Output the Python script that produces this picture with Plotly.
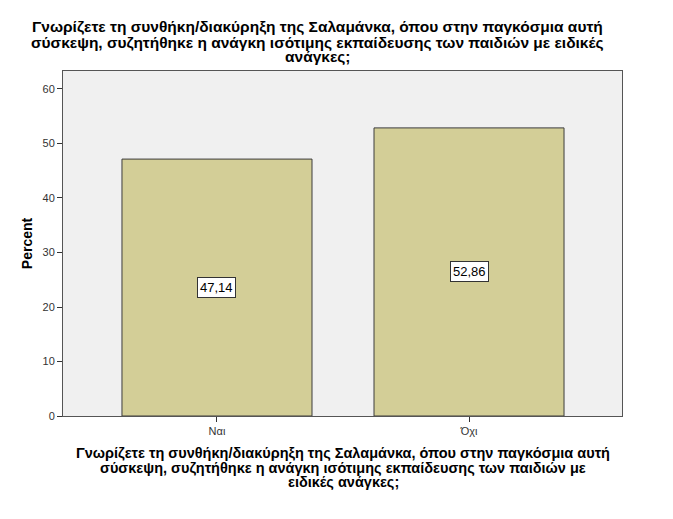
import plotly.graph_objects as go

categories = ["Ναι", "Όχι"]
percent = [47.14, 52.86]
value_labels = ["47,14", "52,86"]

title_lines = [
    "Γνωρίζετε τη συνθήκη/διακύρηξη της Σαλαμάνκα, όπου στην παγκόσμια αυτή",
    "σύσκεψη, συζητήθηκε η ανάγκη ισότιμης εκπαίδευσης των παιδιών με ειδικές",
    "ανάγκες;",
]
xtitle_lines = [
    "Γνωρίζετε τη συνθήκη/διακύρηξη της Σαλαμάνκα, όπου στην παγκόσμια αυτή",
    "σύσκεψη, συζητήθηκε η ανάγκη ισότιμης εκπαίδευσης των παιδιών με",
    "ειδικές ανάγκες;",
]

font_family = "Liberation Sans, Arial, sans-serif"

fig = go.Figure()
fig.add_trace(go.Bar(
    x=categories, y=percent, width=0.754,
    marker=dict(color="#d3ce97", line=dict(color="#3c3c3c", width=1)),
    hoverinfo="x+y",
))

# value labels in the middle of each bar
for cat, val, lab in zip(categories, percent, value_labels):
    fig.add_annotation(
        x=cat, y=val / 2, text=lab, showarrow=False,
        font=dict(family=font_family, size=13, color="black"),
        bgcolor="white", bordercolor="#333333", borderwidth=1, borderpad=2,
    )

# titles, one annotation per line to keep the tight SPSS line spacing
for line, ypos in zip(title_lines, [1.130, 1.084, 1.041]):
    fig.add_annotation(
        text="<b>" + line + "</b>", xref="paper", yref="paper",
        x=0.456, y=ypos, xanchor="center", yanchor="middle", showarrow=False,
        font=dict(family=font_family, size=15.5, color="black"),
    )
for line, ypos in zip(xtitle_lines, [-0.107, -0.151, -0.191]):
    fig.add_annotation(
        text="<b>" + line + "</b>", xref="paper", yref="paper",
        x=0.501, y=ypos, xanchor="center", yanchor="middle", showarrow=False,
        font=dict(family=font_family, size=14.5, color="black"),
    )

fig.update_layout(
    width=665, height=511,
    margin=dict(l=55, r=51, t=63, b=103),
    paper_bgcolor="white", plot_bgcolor="#f0f0f0",
    showlegend=False,
    font=dict(family=font_family, color="#333333"),
    xaxis=dict(
        range=[-0.611, 1.607], showgrid=False, zeroline=False,
        ticks="outside", ticklen=5, tickcolor="#333333",
        tickfont=dict(size=11, color="#333333"),
        showline=True, linecolor="#555555", linewidth=1, mirror=True,
    ),
    yaxis=dict(
        range=[0, 63.3], dtick=10, showgrid=False, zeroline=False,
        ticks="outside", ticklen=5, tickcolor="#333333",
        tickfont=dict(size=11, color="#333333"),
        showline=True, linecolor="#555555", linewidth=1, mirror=True,
        title=dict(text="<b>Percent</b>", font=dict(size=14, color="black"), standoff=6),
    ),
)

fig.write_html("out.html")
